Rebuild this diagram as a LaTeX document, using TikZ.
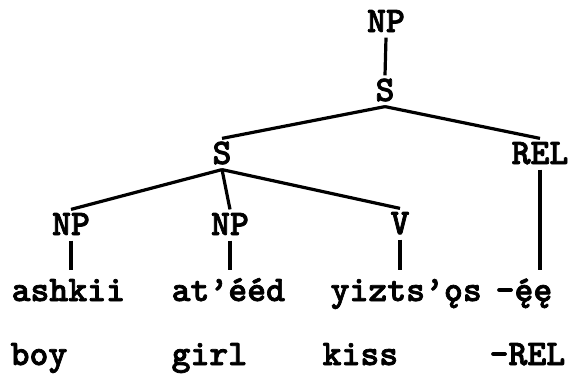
\documentclass[tikz,border=0pt]{standalone}
\usepackage{fontspec}
\newfontfamily\treefont{lmmonolt10-bold.otf}[FakeBold=2]
\usepackage{tikz}

\begin{document}
\begin{tikzpicture}[x=1pt,y=-1pt,line width=3.2pt,
  font=\treefont\fontsize{36}{40}\selectfont,
  cat/.style={inner sep=4pt,text height=20pt,text depth=0pt},
  word/.style={anchor=base west,inner xsep=0pt,inner ysep=8pt,text height=21pt,text depth=7pt}]
\useasboundingbox (0,0) rectangle (572,375);
\node[cat] (np0) at (386,22) {NP};
\node[cat] (s0) at (385,91) {S};
\node[cat] (s1) at (222,154) {S};
\node[cat] (rel) at (540,154) {REL};
\node[cat] (np1) at (71,225) {NP};
\node[cat] (np2) at (230,225) {NP};
\node[cat] (v) at (400,224) {V};
\node[word] (w1) at (10,301) {ashkii};
\node[word] (w2) at (170,301) {at’ééd};
\node[word] (w3) at (329,301) {yizts’ǫs};
\node[word] (w4) at (494,301) {-ę́ę};
\node[word] (g1) at (9,365) {boy};
\node[word] (g2) at (170,365) {girl};
\node[word] (g3) at (321,365) {kiss};
\node[word] (g4) at (488,365) {-REL};
\draw (np0.south) -- (s0.north);
\draw (s0.south) -- (s1.north);
\draw (s0.south) -- (rel.north);
\draw (s1.south) -- (np1.north);
\draw (s1.south) -- (np2.north);
\draw (s1.south) -- (v.north);
\draw (np1.south) -- (np1.south |- w1.north);
\draw (np2.south) -- (np2.south |- w2.north);
\draw (v.south) -- (v.south |- w3.north);
\draw (rel.south) -- (rel.south |- w4.north);
\end{tikzpicture}
\end{document}
